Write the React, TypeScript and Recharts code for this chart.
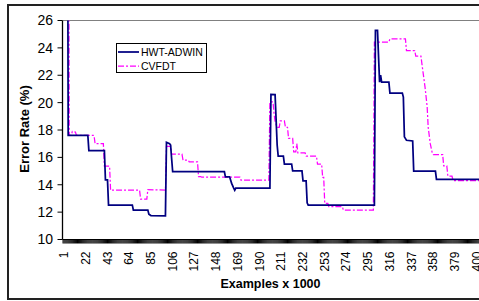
import React from 'react';
import { LineChart, Line, XAxis, YAxis, ReferenceLine, Legend } from 'recharts';

// tick labels on the example axis (x 1000)
const xLabels = [1, 22, 43, 64, 85, 106, 127, 148, 169, 190, 211, 232, 253, 274, 295, 316, 337, 358, 379, 400];
const yTicks = [10, 12, 14, 16, 18, 20, 22, 24, 26];

// [example, error rate %]; first points sit above the 26% top
const hwtAdwin: [number, number][] = [
  [1, 50], [4, 50], [5, 17.6], [24, 17.6], [25, 16.5], [40, 16.5], [41, 14.35], [43, 14.35],
  [44, 12.52], [67, 12.52], [68, 12.15], [82, 12.15], [83, 11.85], [85, 11.75], [99, 11.72],
  [100, 17.1], [103, 17.0], [104, 16.9], [105, 15.9], [106, 14.95], [156, 14.95], [157, 14.58],
  [161, 14.58], [163, 14.1], [165, 13.75], [166, 13.6], [167, 13.75], [200, 13.75],
  [201, 20.6], [205, 20.58], [207, 16.9], [208, 16.1], [213, 16.1], [214, 15.5], [221, 15.5],
  [222, 15.02], [231, 15.02], [232, 14.29], [235, 14.29], [236, 12.68], [237, 12.52], [301, 12.52],
  [302, 25.27], [304, 25.27], [306, 21.5], [307, 22.0], [308, 21.5], [315, 21.5], [316, 20.7],
  [328, 20.7], [329, 20.4], [330, 17.5], [332, 17.25], [338, 17.2], [339, 15.0], [360, 15.0],
  [361, 14.4], [420, 14.4],
];

const cvfdt: [number, number][] = [
  [1, 50], [5, 50], [6, 17.6], [8, 17.6], [9, 17.9], [12, 17.85], [13, 17.6], [30, 17.6],
  [31, 17.0], [39, 17.0], [40, 15.36], [45, 15.36], [46, 13.6], [74, 13.6], [75, 12.95],
  [81, 12.95], [82, 13.65], [99, 13.6], [100, 16.8], [104, 16.8], [105, 16.23], [115, 16.23],
  [116, 15.8], [121, 15.8], [122, 15.67], [130, 15.67], [131, 14.6], [133, 14.6], [134, 14.55],
  [171, 14.55], [172, 14.34], [199, 14.34], [200, 20.05], [203, 20.05], [204, 19.2], [205, 18.6],
  [207, 18.2], [209, 18.2], [210, 18.66], [214, 18.66], [215, 18.2], [217, 18.2], [218, 17.38],
  [222, 17.38], [223, 16.4], [225, 16.4], [226, 17.0], [227, 16.33], [234, 16.33], [235, 16.09],
  [245, 16.09], [246, 15.5], [250, 15.5], [251, 14.53], [252, 14.53], [253, 12.64], [256, 12.64],
  [257, 12.4], [270, 12.4], [271, 12.15], [300, 12.15], [301, 24.42], [315, 24.42], [316, 24.66],
  [331, 24.66], [332, 23.8], [340, 23.8], [341, 23.4], [346, 23.4], [347, 22.8], [350, 21.1],
  [352, 19.7], [353, 18.2], [355, 17.0], [357, 16.3], [358, 16.2], [367, 16.2], [368, 15.38],
  [371, 15.38], [372, 14.63], [376, 14.63], [377, 14.31], [420, 14.31],
];

const LAST_EXAMPLE = 420;
const FONT = '"Liberation Sans", Arial, sans-serif';
const NAVY = '#000080';
const MAGENTA = '#ff00ff';
const DASH = '6 2 2 2';

const toRows = (pts: [number, number][]) => pts.map(([x, y]) => ({ x, y }));
// one tick mark per example, like the category axis in the original
const exampleTicks = Array.from({ length: LAST_EXAMPLE + 1 }, (_, i) => i);

function ExampleTick({ x, y, payload }: any) {
  if (!xLabels.includes(payload.value)) return <g />;
  return (
    <text
      x={x}
      y={y}
      transform={`rotate(-90 ${x} ${y})`}
      textAnchor="end"
      dominantBaseline="central"
      fontSize={12}
      fontFamily={FONT}
      fill="#000"
    >
      {payload.value}
    </text>
  );
}

function LegendBox() {
  const rows = [
    { name: 'HWT-ADWIN', color: NAVY, dash: undefined, width: 1.75 },
    { name: 'CVFDT', color: MAGENTA, dash: DASH, width: 1.25 },
  ];
  return (
    <div
      style={{
        boxSizing: 'border-box',
        width: 91,
        height: 30,
        border: '1px solid #000',
        background: '#fff',
        padding: '1px 0 0 1px',
        fontFamily: FONT,
        fontSize: 10.5,
        color: '#000',
      }}
    >
      {rows.map((r) => (
        <div key={r.name} style={{ display: 'flex', alignItems: 'center', height: 14, lineHeight: '14px' }}>
          <svg width={21} height={14} style={{ display: 'block' }}>
            <line x1={0} y1={7} x2={21} y2={7} stroke={r.color} strokeWidth={r.width} strokeDasharray={r.dash} />
          </svg>
          <span style={{ marginLeft: 2 }}>{r.name}</span>
        </div>
      ))}
    </div>
  );
}

export default function App() {
  return (
    <div
      style={{
        position: 'absolute',
        left: 7,
        top: 4,
        width: 470,
        height: 292,
        borderTop: '2px solid #222',
        borderLeft: '2px solid #222',
        borderBottom: '2px solid #222',
        overflow: 'hidden',
        background: '#fff',
      }}
    >
      <LineChart width={500} height={292} margin={{ top: 14.5, right: 11.5, bottom: 8.5, left: 13.5 }}>
        <XAxis
          type="number"
          dataKey="x"
          domain={[-0.5, LAST_EXAMPLE]}
          allowDataOverflow
          ticks={exampleTicks}
          interval={0}
          tick={<ExampleTick />}
          tickSize={4}
          tickMargin={8}
          height={50}
          axisLine={{ stroke: '#000', strokeWidth: 1 }}
          tickLine={{ stroke: '#000', strokeWidth: 1 }}
          label={{
            value: 'Examples x 1000',
            content: () => (
              <text x={261.5} y={278} textAnchor="middle" dominantBaseline="central" fontSize={12.5} fontWeight="bold" fontFamily={FONT} fill="#000">
                Examples x 1000
              </text>
            ),
          }}
        />
        <YAxis
          type="number"
          domain={[10, 26]}
          allowDataOverflow
          ticks={yTicks}
          interval={0}
          width={40}
          tickSize={5}
          tickMargin={4.5}
          axisLine={{ stroke: '#000', strokeWidth: 1.3 }}
          tickLine={{ stroke: '#000' }}
          tick={{ fill: '#000', fontSize: 14, fontFamily: FONT }}
          label={{
            value: 'Error Rate (%)',
            content: () => (
              <text x={15.2} y={123} transform="rotate(-90 15.2 123)" textAnchor="middle" dominantBaseline="central" fontSize={13} fontWeight="bold" fontFamily={FONT} fill="#000">
                Error Rate (%)
              </text>
            ),
          }}
        />
        <ReferenceLine y={26} stroke="#808080" strokeWidth={1} />
        <Line
          data={toRows(cvfdt)}
          dataKey="y"
          name="CVFDT"
          type="linear"
          stroke={MAGENTA}
          strokeWidth={1.25}
          strokeDasharray={DASH}
          dot={false}
          activeDot={false}
          isAnimationActive={false}
        />
        <Line
          data={toRows(hwtAdwin)}
          dataKey="y"
          name="HWT-ADWIN"
          type="linear"
          stroke={NAVY}
          strokeWidth={1.75}
          dot={false}
          activeDot={false}
          isAnimationActive={false}
        />
        <Legend
          layout="vertical"
          align="center"
          verticalAlign="middle"
          content={() => <LegendBox />}
          wrapperStyle={{ left: 107, top: 37, width: 91, height: 30 }}
        />
      </LineChart>
    </div>
  );
}
